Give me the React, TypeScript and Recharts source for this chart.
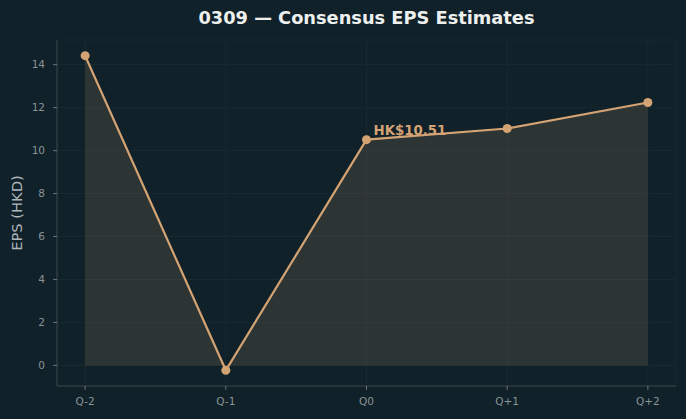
import React from "react";
import {
  ComposedChart, Area, Line, XAxis, YAxis, CartesianGrid, LabelList,
} from "recharts";

const quarters = ["Q-2", "Q-1", "Q0", "Q+1", "Q+2"];
const eps = [14.42, -0.23, 10.51, 11.03, 12.24];
const notes = ["", "", "HK$10.51", "", ""];
const yTicks = [0, 2, 4, 6, 8, 10, 12, 14];

const BG = "#10212a";
const TAN = "#d4a373";
const FONT = "'DejaVu Sans', sans-serif";

const data = quarters.map((q, i) => ({ x: i, q, eps: eps[i], note: notes[i] }));

const NoteLabel = ({ x, y, value }: any) => {
  if (!value) return null;
  return (
    <text x={x + 7} y={y - 5} fill={TAN} fontSize={13.3} fontWeight="bold" fontFamily={FONT}>
      {value}
    </text>
  );
};

const YLabel = () => (
  <text
    x={22} y={213} transform="rotate(-90 22 213)" textAnchor="middle"
    fill="#aeb6b9" fontSize={14.7} fontFamily={FONT}
  >
    EPS (HKD)
  </text>
);

export default function App() {
  React.useEffect(() => {
    document.body.style.margin = "0";
    document.body.style.background = BG;
  }, []);
  const tick = { fill: "#8a9396", fontSize: 10.5, fontFamily: FONT };
  return (
    <div style={{ position: "fixed", left: 0, top: 0, width: 686, height: 419, background: BG }}>
      <div
        style={{
          position: "absolute", left: 57, width: 619, top: 7, textAlign: "center",
          color: "#eef0ee", fontFamily: FONT, fontWeight: "bold", fontSize: 17.8,
        }}
      >
        0309 — Consensus EPS Estimates
      </div>
      <ComposedChart width={686} height={419} data={data} margin={{ top: 40, right: 10, bottom: 0, left: 0 }}>
        <CartesianGrid stroke="#18292f" strokeWidth={1} />
        <XAxis
          dataKey="x" type="number" domain={[-0.2, 4.2]} ticks={[0, 1, 2, 3, 4]}
          tickFormatter={(v) => quarters[v]} tick={tick} height={33}
          axisLine={{ stroke: "#3b4447" }} tickLine={{ stroke: "#6b7376" }}
          tickSize={4} tickMargin={8} interval={0}
        />
        <YAxis
          type="number" domain={[-0.96, 15.15]} ticks={yTicks} tick={tick} width={57}
          axisLine={{ stroke: "#3b4447" }} tickLine={{ stroke: "#6b7376" }}
          tickSize={4} tickMargin={8} allowDataOverflow label={<YLabel />}
        />
        <Area
          dataKey="eps" type="linear" baseValue={0} fill={TAN} fillOpacity={0.15}
          stroke={TAN} strokeOpacity={0.12} strokeWidth={1} isAnimationActive={false}
          dot={false} activeDot={false}
        />
        <Line
          dataKey="eps" type="linear" stroke={TAN} strokeWidth={2.2}
          dot={{ r: 4.5, fill: TAN, stroke: "none" }} activeDot={false}
          isAnimationActive={false}
        >
          <LabelList dataKey="note" content={<NoteLabel />} />
        </Line>
      </ComposedChart>
    </div>
  );
}
